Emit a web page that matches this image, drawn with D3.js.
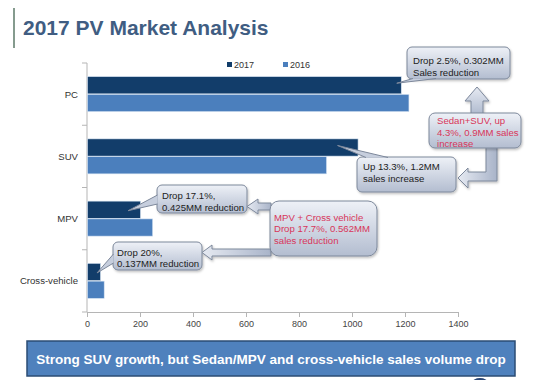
<!DOCTYPE html>
<html><head><meta charset="utf-8">
<script src="https://cdn.jsdelivr.net/npm/d3@7"></script>
<style>
html,body{margin:0;padding:0;background:#fff;}
svg{display:block;font-family:"Liberation Sans",Arial,sans-serif;}
</style></head>
<body>
<script>
// ---- data ----
const categories = ["PC", "SUV", "MPV", "Cross-vehicle"];
const values2017 = [1184, 1021, 200, 49];
const values2016 = [1213, 902, 246, 63];
const seriesNames = ["2017", "2016"];
const xTicks = [0, 200, 400, 600, 800, 1000, 1200, 1400];
const titleText = "2017 PV Market Analysis";
const bannerText = "Strong SUV growth, but Sedan/MPV and cross-vehicle sales volume drop";
const noteTexts = [
  ["Drop 2.5%, 0.302MM", "Sales reduction"],
  ["Up 13.3%, 1.2MM", "sales increase"],
  ["Drop 17.1%,", "0.425MM reduction"],
  ["Drop 20%,", "0.137MM reduction"]
];
const summaryTexts = [
  ["Sedan+SUV, up", "4.3%, 0.9MM sales", "increase"],
  ["MPV + Cross vehicle", "Drop 17.7%, 0.562MM", "sales reduction"]
];

const W = 554, H = 380;
const colors = {"2017": "#123d6a", "2016": "#4b7fbd"};
const svg = d3.select("body").append("svg").attr("width", W).attr("height", H);

const defs = svg.append("defs");
const g1 = defs.append("linearGradient").attr("id", "boxg").attr("x1", 0).attr("y1", 0).attr("x2", 0).attr("y2", 1);
g1.append("stop").attr("offset", "0%").attr("stop-color", "#eef1f7");
g1.append("stop").attr("offset", "100%").attr("stop-color", "#b3bdd0");
const g2 = defs.append("linearGradient").attr("id", "arrg").attr("x1", 0).attr("y1", 0).attr("x2", 1).attr("y2", 0);
g2.append("stop").attr("offset", "0%").attr("stop-color", "#e6eaf2");
g2.append("stop").attr("offset", "100%").attr("stop-color", "#a9b4c9");
const g3 = defs.append("linearGradient").attr("id", "arrv").attr("x1", 0).attr("y1", 0).attr("x2", 0).attr("y2", 1);
g3.append("stop").attr("offset", "0%").attr("stop-color", "#e6eaf2");
g3.append("stop").attr("offset", "100%").attr("stop-color", "#b0bbcf");
const sh = defs.append("filter").attr("id", "sh").attr("x", "-10%").attr("y", "-10%").attr("width", "130%").attr("height", "140%");
sh.append("feDropShadow").attr("dx", 1).attr("dy", 1.5).attr("stdDeviation", 1).attr("flood-color", "#000").attr("flood-opacity", 0.25);

// ---- title ----
svg.append("line").attr("x1", 14).attr("x2", 14).attr("y1", 8).attr("y2", 48)
  .attr("stroke", "#5d7a68").attr("stroke-width", 1.5);
svg.append("text").attr("x", 23).attr("y", 35).text(titleText)
  .attr("font-size", 21).attr("font-weight", "bold").attr("fill", "#405d82");

// ---- scales ----
const x = d3.scaleLinear().domain([0, 1400]).range([87, 458]);
const y = d3.scaleBand().domain(categories).range([63, 312]).paddingInner(0.438).paddingOuter(0.219);
const ys = d3.scaleBand().domain(seriesNames).range([0, y.bandwidth()]).paddingInner(0.03);

// ---- axes ----
const axisColor = "#b5b5b5";
const xAxis = svg.append("g").attr("transform", "translate(0,312)")
  .call(d3.axisBottom(x).tickValues(xTicks).tickFormat(d3.format("d")).tickSize(5).tickPadding(4).tickSizeOuter(0));
xAxis.select(".domain").attr("stroke", axisColor);
xAxis.selectAll(".tick line").attr("stroke", axisColor);
xAxis.selectAll(".tick text").attr("font-size", 9).attr("fill", "#444").attr("font-family", "Liberation Sans, Arial, sans-serif");

svg.append("line").attr("x1", 87).attr("x2", 87).attr("y1", 63).attr("y2", 312).attr("stroke", axisColor);
const step = y.step();
const bounds = categories.map(c => y(c) - step * y.paddingInner() / 2).concat([312]);
svg.selectAll(".ytick").data(bounds).enter().append("line")
  .attr("x1", 82).attr("x2", 87).attr("y1", d => d).attr("y2", d => d).attr("stroke", axisColor);
svg.selectAll(".ylab").data(categories).enter().append("text")
  .attr("x", 78).attr("y", d => y(d) + y.bandwidth() / 2 + 3.5).attr("text-anchor", "end")
  .attr("font-size", 9.6).attr("fill", "#333").text(d => d);

// ---- bars ----
const rows = categories.map((c, i) => ({cat: c, "2017": values2017[i], "2016": values2016[i]}));
seriesNames.forEach(s => {
  svg.selectAll(".bar" + s).data(rows).enter().append("rect")
    .attr("x", x(0) + 0.5).attr("y", d => y(d.cat) + ys(s))
    .attr("width", d => x(d[s]) - x(0)).attr("height", ys.bandwidth())
    .attr("fill", colors[s]).attr("stroke", "#d6e3f2").attr("stroke-width", 0.6);
});

// ---- legend ----
const legX = [227, 283];
seriesNames.forEach((s, i) => {
  svg.append("rect").attr("x", legX[i]).attr("y", 62).attr("width", 5).attr("height", 5).attr("fill", colors[s]);
  svg.append("text").attr("x", legX[i] + 7).attr("y", 67.5).attr("font-size", 9).attr("fill", "#333").text(s);
});

// ---- callouts ----
function barEnd(ci, s) {
  const v = s === "2017" ? values2017[ci] : values2016[ci];
  return [x(v), y(categories[ci]) + ys(s) + ys.bandwidth() / 2];
}
function callout(box, tip, base, lines, tx, ty, color, r) {
  const g = svg.append("g");
  g.append("rect").attr("x", box[0]).attr("y", box[1]).attr("width", box[2] - box[0]).attr("height", box[3] - box[1])
    .attr("rx", r || 5).attr("fill", "url(#boxg)").attr("stroke", "#7d889b").attr("stroke-width", 1).attr("filter", "url(#sh)");
  if (tip) {
    g.append("path").attr("d", `M${base[0][0]},${base[0][1]}L${tip[0]},${tip[1]}L${base[1][0]},${base[1][1]}`)
      .attr("fill", "#c6cedd").attr("stroke", "#7d889b").attr("stroke-width", 1);
  }
  lines.forEach((l, i) => {
    g.append("text").attr("x", tx).attr("y", ty + i * 11.5).attr("font-size", 9.6).attr("fill", color || "#222").text(l);
  });
}
let e;
e = barEnd(0, "2017");
callout([407, 47, 510, 79], [e[0] - 4, e[1] - 2], [[413, 78.5], [436, 78.5]], noteTexts[0], 413, 64);
e = barEnd(1, "2017");
callout([357, 157, 456, 192], [e[0] - 20, e[1] - 2], [[366, 157.5], [388, 157.5]], noteTexts[1], 363, 170);
e = barEnd(2, "2017");
callout([157, 185, 247, 213], [e[0] - 12, e[1] + 1], [[157.5, 195], [157.5, 204]], noteTexts[2], 162, 199);
e = barEnd(3, "2017");
callout([113, 242, 202, 270], [e[0] - 3, e[1] + 1], [[113.5, 254], [113.5, 263]], noteTexts[3], 117, 255.5);

// ---- block arrows ----
function blockArrow(pts, fill) {
  svg.append("path").attr("d", "M" + pts.map(p => p.join(",")).join("L") + "Z")
    .attr("fill", fill).attr("stroke", "#7d889b").attr("stroke-width", 1).attr("filter", "url(#sh)");
}
// up arrow to PC callout
blockArrow([[471, 114], [471, 101], [465, 101], [477, 87], [489, 101], [483, 101], [483, 114]], "url(#arrv)");
// elbow arrow to SUV callout
blockArrow([[486, 147], [497, 147], [497, 181], [468, 181], [468, 188], [458, 178], [468, 168], [468, 172], [486, 172]], "url(#arrg)");
// arrows from MPV+Cross box
blockArrow([[271, 203], [258, 203], [258, 199], [247, 206.5], [258, 214], [258, 210], [271, 210]], "url(#arrg)");
blockArrow([[271, 249], [212, 249], [212, 245], [202, 252.5], [212, 260], [212, 256], [271, 256]], "url(#arrg)");

// summary boxes
callout([429, 113, 521, 148], null, null, summaryTexts[0], 437, 124, "#d8365a", 6);
callout([270, 201, 377, 256], null, null, summaryTexts[1], 274, 220.5, "#d8365a", 9);

// ---- banner ----
svg.append("rect").attr("x", 27).attr("y", 341).attr("width", 488).attr("height", 35)
  .attr("fill", "#4f81bd").attr("stroke", "#2b4c74").attr("stroke-width", 1.5);
svg.append("text").attr("x", 271).attr("y", 363.5).attr("text-anchor", "middle")
  .attr("font-size", 13.5).attr("font-weight", "bold").attr("fill", "#fff").text(bannerText);

// partial logo at bottom edge
svg.append("ellipse").attr("cx", 480).attr("cy", 383).attr("rx", 8).attr("ry", 5).attr("fill", "#2a4676");
</script>
</body></html>
